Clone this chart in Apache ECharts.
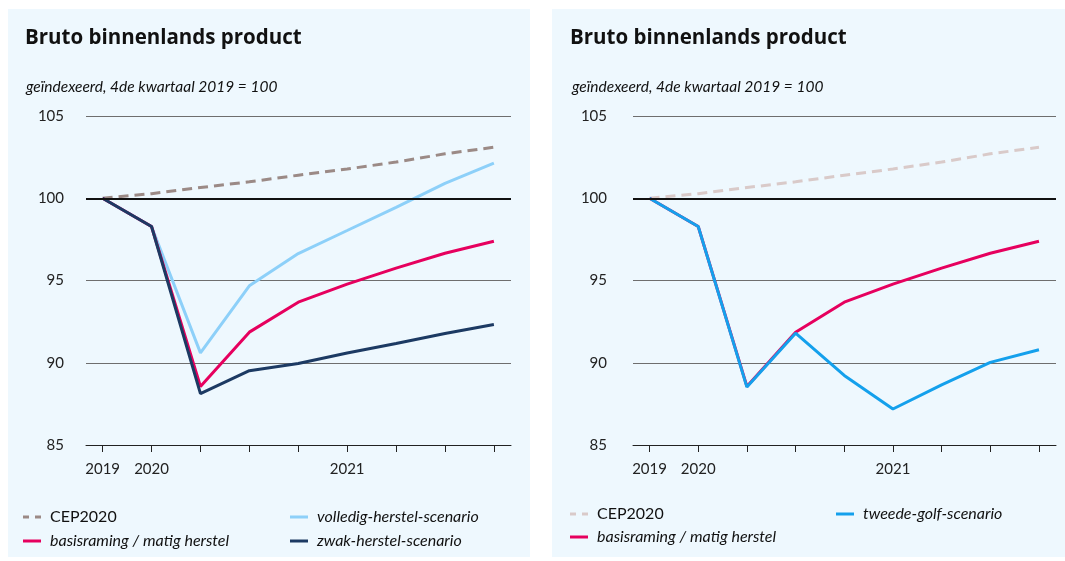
<!DOCTYPE html>
<html>
<head>
<meta charset="utf-8">
<script src="https://cdn.jsdelivr.net/npm/echarts@6/dist/echarts.min.js"></script>
<style>
  html, body { margin: 0; padding: 0; background: #fff; }
  .paneel { position: absolute; top: 9px; height: 548px; background: #eef8fe; }
  #chart { position: absolute; left: 0; top: 0; width: 1065px; height: 561px; }
</style>
</head>
<body>
<div class="paneel" style="left:8px;width:522px"></div>
<div class="paneel" style="left:552px;width:513px"></div>
<div id="chart"></div>
<script>
// kwartalen: 2019K4 t/m 2021K4
var kwartalen = ['2019K4', '2020K1', '2020K2', '2020K3', '2020K4', '2021K1', '2021K2', '2021K3', '2021K4'];
var xLabels = ['2019', '2020', '', '', '', '2021', '', '', ''];
var yTicks = [85, 90, 95, 100, 105];

var cep2020 = [100, 100.28, 100.65, 101.0, 101.4, 101.78, 102.2, 102.7, 103.1];
var volledigHerstel = [100, 98.28, 90.6, 94.68, 96.64, 98.04, 99.45, 100.91, 102.13];
var basisraming = [100, 98.28, 88.56, 91.86, 93.68, 94.78, 95.75, 96.66, 97.39];
var zwakHerstel = [100, 98.28, 88.12, 89.52, 89.96, 90.59, 91.17, 91.78, 92.33];
var tweedeGolf = [100, 98.28, 88.52, 91.8, 89.23, 87.19, 88.66, 90.02, 90.79];

var FONT = 'Lato';
var ICON_LIJN = 'path://M0,0h18v3h-18z';
var ICON_STREEP = 'path://M0,0h6v3h-6zM12,0h6v3h-6z';

function punten(arr) {
  return arr.map(function (v, i) { return [i, v]; });
}

var tickIdx = kwartalen.map(function (k, i) { return i; });
var labelIdx = [];
xLabels.forEach(function (l, i) { if (l) labelIdx.push(i); });

function xas(gi) {
  return {
    type: 'value', gridIndex: gi,
    min: -0.34, max: 8.35,
    axisLine: { show: true, lineStyle: { color: '#222', width: 1 } },
    axisTick: { show: true, length: 7, customValues: tickIdx, lineStyle: { color: '#222' } },
    axisLabel: {
      customValues: labelIdx, margin: 17,
      color: '#222', fontFamily: FONT, fontSize: 15,
      formatter: function (v) { return xLabels[Math.round(v)] || ''; }
    },
    splitLine: { show: false }
  };
}
function yas(gi, marge) {
  return {
    type: 'value', gridIndex: gi,
    min: yTicks[0], max: yTicks[yTicks.length - 1], interval: 5,
    axisLine: { show: false }, axisTick: { show: false },
    axisLabel: { color: '#222', fontFamily: FONT, fontSize: 15, margin: marge },
    splitLine: { lineStyle: { color: '#6e6e6e', width: 1 } }
  };
}
function lijn(naam, data, kleur, gi, dashed) {
  var s = {
    name: naam, type: 'line', xAxisIndex: gi, yAxisIndex: gi,
    data: punten(data), symbol: 'none', animation: false,
    lineStyle: { color: kleur, width: 3, type: dashed ? [10, 6] : 'solid' },
    itemStyle: { color: kleur }
  };
  if (dashed) {
    // dikke zwarte lijn op 100
    s.markLine = {
      silent: true, symbol: 'none', label: { show: false },
      lineStyle: { color: '#111', width: 2, type: 'solid' },
      data: [{ yAxis: 100 }]
    };
  }
  return s;
}
function legenda(naam, left, top, italic, icon) {
  return {
    data: [naam], left: left, top: top,
    icon: icon || ICON_LIJN,
    itemWidth: 18, itemHeight: 3, padding: 0,
    selectedMode: false,
    formatter: function (n) { return n.replace(' (r)', ''); },
    textStyle: {
      fontFamily: FONT, fontSize: 16, color: '#111',
      fontStyle: italic ? 'italic' : 'normal', padding: [0, 0, 0, 4]
    }
  };
}

var titel = 'Bruto binnenlands product';
var subtitel = 'geïndexeerd, 4de kwartaal 2019 = 100';
var titelStijl = { fontFamily: 'Open Sans', fontSize: 20.5, fontWeight: 'bold', color: '#111' };
var subStijl = { fontFamily: FONT, fontSize: 15.5, fontStyle: 'italic', fontWeight: 'normal', color: '#111' };

var chart = echarts.init(document.getElementById('chart'));
chart.setOption({
  animation: false,
  title: [
    { text: titel, left: 25, top: 28, padding: 0, textStyle: titelStijl },
    { text: subtitel, left: 26, top: 79, padding: 0, textStyle: subStijl },
    { text: titel, left: 570, top: 28, padding: 0, textStyle: titelStijl },
    { text: subtitel, left: 572, top: 79, padding: 0, textStyle: subStijl }
  ],
  grid: [
    { left: 86, top: 116, width: 425, height: 329 },
    { left: 633, top: 116, width: 423, height: 329 }
  ],
  xAxis: [xas(0), xas(1)],
  yAxis: [yas(0, 22), yas(1, 26)],
  legend: [
    legenda('CEP2020', 23, 509, false, ICON_STREEP),
    legenda('basisraming / matig herstel', 23, 533, true),
    legenda('volledig-herstel-scenario', 290, 509, true),
    legenda('zwak-herstel-scenario', 290, 533, true),
    legenda('CEP2020 (r)', 570, 506, false, ICON_STREEP),
    legenda('basisraming / matig herstel (r)', 570, 529, true),
    legenda('tweede-golf-scenario', 836, 506, true)
  ],
  series: [
    lijn('CEP2020', cep2020, '#9b8a86', 0, true),
    lijn('volledig-herstel-scenario', volledigHerstel, '#8dd0f9', 0),
    lijn('basisraming / matig herstel', basisraming, '#e6005e', 0),
    lijn('zwak-herstel-scenario', zwakHerstel, '#1c3a63', 0),
    lijn('CEP2020 (r)', cep2020, '#d9cac9', 1, true),
    lijn('basisraming / matig herstel (r)', basisraming, '#e6005e', 1),
    lijn('tweede-golf-scenario', tweedeGolf, '#14a0ec', 1)
  ]
});
</script>
</body>
</html>
